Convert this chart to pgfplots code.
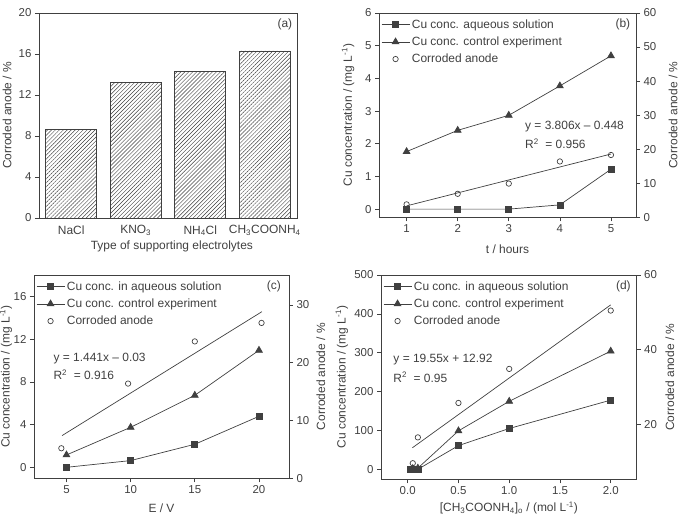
\documentclass[border=0pt]{standalone}
\usepackage{fontspec}
\setmainfont{Liberation Sans}
\usepackage{pgfplots}
\pgfplotsset{compat=1.18}
\usetikzlibrary{patterns.meta}
\definecolor{ink}{gray}{0.25}
\pgfplotsset{
  panel/.style={
    scale only axis,
    anchor=south west,
    font=\fontsize{11.5}{13}\selectfont,
    /pgf/number format/assume math mode=true,
    axis line style={ink, line width=0.7pt},
    every tick/.style={ink, line width=0.7pt},
    tick align=outside,
    major tick length=4bp,
    tick label style={ink},
    label style={ink, font=\fontsize{12}{14}\selectfont},
  },
  mylegend/.style={
    legend style={at={(axis description cs:0,1)}, anchor=north west, draw=none, fill=none,
      font=\fontsize{12}{14}\selectfont, text=ink, row sep=3bp, inner xsep=2bp, inner ysep=4.5bp},
    legend cell align=left,
    legend image code/.code={\draw[mark repeat=2,mark phase=2,##1] plot coordinates {(0bp,0bp) (14bp,0bp) (28bp,0bp)};},
  },
  sq/.style={ink, line width=0.7pt, mark=square*, mark size=3bp, mark options={solid, fill=ink}},
  tri/.style={ink, line width=0.7pt, mark=triangle*, mark size=3.9bp, mark options={solid, fill=ink}},
  circ/.style={ink, only marks, mark=o, mark size=2.7bp, mark options={line width=0.7pt}},
  fit/.style={ink, line width=0.7pt, no marks, forget plot},
}
\begin{document}
\begin{tikzpicture}
\useasboundingbox (0,0) rectangle (679bp,522bp);

% ---------------- (a) ----------------
\begin{axis}[panel, at={(39bp,304bp)}, width=258bp, height=205bp,
  xmin=-0.5, xmax=3.5, ymin=0, ymax=20,
  ytick={0,4,...,20}, xtick={0,1,2,3},
  xticklabels={NaCl, KNO\textsubscript{3}, NH\textsubscript{4}Cl, CH\textsubscript{3}COONH\textsubscript{4}},
  x tick label style={font=\fontsize{12}{14}\selectfont},
  tick pos=left, xtick style={draw=none},
  ylabel={Corroded anode / \%}, xlabel={Type of supporting electrolytes},
  ylabel style={at={(axis description cs:-0.124,0.5)}, anchor=center},
  xlabel style={at={(axis description cs:0.515,-0.14)}, anchor=center},
  ybar, bar width=0.79]
\addplot[draw=ink, line width=0.7pt, pattern={Lines[angle=45,distance=2.8bp,line width=0.45bp]}, pattern color=ink]
  coordinates {(0,8.6) (1,13.2) (2,14.3) (3,16.3)};
\node[ink, font=\fontsize{12}{14}\selectfont] at (axis description cs:0.953,0.946) {(a)};
\end{axis}

% ---------------- (b) ----------------
\begin{axis}[panel, mylegend, at={(379bp,304.7bp)}, width=257bp, height=204.3bp,
  xmin=0.46, xmax=5.49, ymin=-0.25, ymax=6,
  xtick={1,...,5}, ytick={0,...,6}, tick pos=left,
  xlabel={t / hours}, ylabel={Cu concentration / (mg L\textsuperscript{-1})},
  ylabel style={at={(axis description cs:-0.12,0.5)}, anchor=center},
  xlabel style={at={(axis description cs:0.5,-0.157)}, anchor=center}]
\addplot[sq] coordinates {(1,0) (2,0) (3,0) (4,0.13) (5,1.22)};
\addlegendentry{Cu conc. aqueous solution}
\addplot[tri] coordinates {(1,1.76) (2,2.41) (3,2.87) (4,3.77) (5,4.69)};
\addlegendentry{Cu conc. control experiment}
\addlegendimage{circ}
\addlegendentry{Corroded anode}
\node[ink, font=\fontsize{12}{14}\selectfont] at (axis description cs:0.949,0.945) {(b)};
\node[ink, font=\fontsize{12}{14}\selectfont, anchor=west] at (axis description cs:0.555,0.445) {y = 3.806x – 0.448};
\node[ink, font=\fontsize{12}{14}\selectfont, anchor=west] at (axis description cs:0.555,0.361) {R\textsuperscript{2}\ \ = 0.956};
\end{axis}
\begin{axis}[panel, at={(379bp,304.7bp)}, width=257bp, height=204.3bp,
  xmin=0.46, xmax=5.49, ymin=0, ymax=60,
  axis y line*=right, axis x line=none, ytick={0,10,...,60},
  ylabel={Corroded anode / \%},
  ylabel style={at={(axis description cs:1.144,0.5)}, anchor=center}]
\addplot[circ] coordinates {(1,3.8) (2,6.9) (3,9.9) (4,16.4) (5,18.3)};
\addplot[fit] coordinates {(1,3.358) (5,18.582)};
\end{axis}

% ---------------- (c) ----------------
\begin{axis}[panel, mylegend, at={(34bp,43.7bp)}, width=255bp, height=203.3bp,
  xmin=2.47, xmax=22.34, ymin=-1.03, ymax=18.03,
  xtick={5,10,15,20}, ytick={0,4,...,16}, tick pos=left,
  xlabel={E / V}, ylabel={Cu concentration / (mg L\textsuperscript{-1})},
  ylabel style={at={(axis description cs:-0.11,0.5)}, anchor=center},
  xlabel style={at={(axis description cs:0.5,-0.148)}, anchor=center}]
\addplot[sq] coordinates {(5,0) (10,0.63) (15,2.16) (20,4.78)};
\addlegendentry{Cu conc. in aqueous solution}
\addplot[tri] coordinates {(5,1.16) (10,3.75) (15,6.75) (20,10.97)};
\addlegendentry{Cu conc. control experiment}
\addlegendimage{circ}
\addlegendentry{Corroded anode}
\node[ink, font=\fontsize{12}{14}\selectfont] at (axis description cs:0.941,0.946) {(c)};
\node[ink, font=\fontsize{12}{14}\selectfont, anchor=west] at (axis description cs:0.063,0.588) {y = 1.441x – 0.03};
\node[ink, font=\fontsize{12}{14}\selectfont, anchor=west] at (axis description cs:0.063,0.508) {R\textsuperscript{2}\ \ = 0.916};
\end{axis}
\begin{axis}[panel, at={(34bp,43.7bp)}, width=255bp, height=203.3bp,
  xmin=2.47, xmax=22.34, ymin=0, ymax=35.2,
  axis y line*=right, axis x line=none, ytick={0,10,20,30},
  ylabel={Corroded anode / \%},
  ylabel style={at={(axis description cs:1.125,0.5)}, anchor=center}]
\addplot[circ] coordinates {(4.6,5.2) (9.8,16.4) (15.0,23.7) (20.2,26.9)};
\addplot[fit] coordinates {(4.66,7.4) (20.23,28.85)};
\end{axis}

% ---------------- (d) ----------------
\begin{axis}[panel, mylegend, at={(381bp,42.7bp)}, width=255.7bp, height=204.3bp,
  xmin=-0.263, xmax=2.256, ymin=-25.7, ymax=500,
  xtick={0,0.5,...,2}, ytick={0,100,...,500}, tick pos=left,
  xticklabel style={/pgf/number format/.cd, fixed, fixed zerofill, precision=1},
  xlabel={[CH\textsubscript{3}COONH\textsubscript{4}]\textsubscript{o} / (mol L\textsuperscript{-1})},
  ylabel={Cu concentration / (mg L\textsuperscript{-1})},
  ylabel style={at={(axis description cs:-0.153,0.5)}, anchor=center},
  xlabel style={at={(axis description cs:0.5,-0.142)}, anchor=center}]
\addplot[sq] coordinates {(0.025,0) (0.05,0) (0.1,0) (0.5,61) (1.0,105) (2.0,178)};
\addlegendentry{Cu conc. in aqueous solution}
\addplot[tri] coordinates {(0.05,2) (0.1,3) (0.5,99) (1.0,175) (2.0,304)};
\addlegendentry{Cu conc. control experiment}
\addlegendimage{circ}
\addlegendentry{Corroded anode}
\node[ink, font=\fontsize{12}{14}\selectfont] at (axis description cs:0.948,0.946) {(d)};
\node[ink, font=\fontsize{12}{14}\selectfont, anchor=west] at (axis description cs:0.035,0.584) {y = 19.55x + 12.92};
\node[ink, font=\fontsize{12}{14}\selectfont, anchor=west] at (axis description cs:0.035,0.499) {R\textsuperscript{2}\ \ = 0.95};
\end{axis}
\begin{axis}[panel, at={(381bp,42.7bp)}, width=255.7bp, height=204.3bp,
  xmin=-0.263, xmax=2.256, ymin=5.4, ymax=60,
  axis y line*=right, axis x line=none, ytick={20,40,60},
  ylabel={Corroded anode / \%},
  ylabel style={at={(axis description cs:1.13,0.5)}, anchor=center}]
\addplot[circ] coordinates {(0.05,9.7) (0.1,16.6) (0.5,25.8) (1.0,34.9) (2.0,50.5)};
\addplot[fit] coordinates {(0.046,13.82) (2.0,52.02)};
\end{axis}
\end{tikzpicture}
\end{document}
